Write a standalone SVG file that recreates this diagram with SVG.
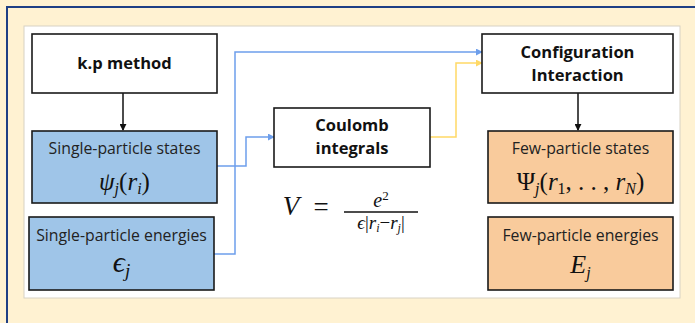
<svg xmlns="http://www.w3.org/2000/svg" width="695" height="323" viewBox="0 0 695 323">
<style>
.box{stroke:#1a1a1a;stroke-width:1.6}
.w{fill:#fff}.b{fill:#9fc5e8}.o{fill:#f9cb9c}
.t{font-family:"Open Sans","Liberation Sans",sans-serif;font-size:15.8px;fill:#222;text-anchor:middle}
.h{font-family:"Open Sans","Liberation Sans",sans-serif;font-size:16.5px;font-weight:bold;fill:#111;text-anchor:middle}
.m{font-family:"Liberation Serif","DejaVu Serif",serif;font-style:italic;fill:#111;text-anchor:middle}
.u{font-style:normal}
.c{fill:none;stroke-width:1.5}
</style>
<defs>
<marker id="ak" viewBox="0 0 8 8" refX="7" refY="4" markerWidth="7" markerHeight="7" markerUnits="userSpaceOnUse" orient="auto"><path d="M0,0L8,4L0,8z" fill="#111"/></marker>
<marker id="ab" viewBox="0 0 8 8" refX="7" refY="4" markerWidth="7" markerHeight="7" markerUnits="userSpaceOnUse" orient="auto"><path d="M0,0L8,4L0,8z" fill="#6d9eeb"/></marker>
<marker id="ay" viewBox="0 0 8 8" refX="7" refY="4" markerWidth="7" markerHeight="7" markerUnits="userSpaceOnUse" orient="auto"><path d="M0,0L8,4L0,8z" fill="#ffd966"/></marker>
</defs>
<rect x="0" y="0" width="695" height="323" fill="#fff2d2"/>
<path d="M7,323V7H695" fill="none" stroke="#1f3f85" stroke-width="2"/>
<rect x="24" y="26" width="656" height="272" fill="#fff" stroke="#d8d2c4" stroke-width="1"/>
<g id="connectors">
<path class="c" d="M123,93V130" stroke="#111" marker-end="url(#ak)"/>
<path class="c" d="M578,93V130" stroke="#111" marker-end="url(#ak)"/>
<path class="c" d="M217,166H246V137H274" stroke="#6d9eeb" marker-end="url(#ab)"/>
<path class="c" d="M214,254H235V52H482" stroke="#6d9eeb" marker-end="url(#ab)"/>
<path class="c" d="M430,137H456V63H482" stroke="#ffd966" marker-end="url(#ay)"/>
</g>
<g id="kp"><rect class="box w" x="32" y="34" width="185" height="59"/><text class="h" x="124.5" y="69">k.p method</text></g>
<g id="sps"><rect class="box b" x="32" y="131" width="185" height="72"/><text class="t" x="124.5" y="154">Single-particle states</text>
<text class="m" x="124.5" y="190" font-size="25">ψ<tspan font-size="16" dy="4">j</tspan><tspan class="u" dy="-4">(</tspan>r<tspan font-size="16" dy="4">i</tspan><tspan class="u" dy="-4">)</tspan></text></g>
<g id="spe"><rect class="box b" x="29" y="217" width="185" height="73"/><text class="t" x="121.5" y="241">Single-particle energies</text>
<text class="m" x="121.5" y="272" font-size="30">ϵ<tspan font-size="19" dy="5">j</tspan></text></g>
<g id="coulomb"><rect class="box w" x="274" y="108" width="156" height="59"/><text class="h" x="352" y="131">Coulomb</text><text class="h" x="352" y="154">integrals</text></g>
<g id="ci"><rect class="box w" x="482" y="34" width="191" height="59"/><text class="h" x="577.5" y="58">Configuration</text><text class="h" x="577.5" y="81">Interaction</text></g>
<g id="fps"><rect class="box o" x="488" y="131" width="185" height="72"/><text class="t" x="580.5" y="154">Few-particle states</text>
<text class="m" x="580.5" y="190" font-size="25"><tspan class="u">Ψ</tspan><tspan font-size="16" dy="4">j</tspan><tspan class="u" dy="-4">(</tspan>r<tspan class="u" font-size="16" dy="4">1</tspan><tspan class="u" dy="-4">, . . , </tspan>r<tspan font-size="16" dy="4">N</tspan><tspan class="u" dy="-4">)</tspan></text></g>
<g id="fpe"><rect class="box o" x="488" y="217" width="185" height="73"/><text class="t" x="580.5" y="241">Few-particle energies</text>
<text class="m" x="580.5" y="273" font-size="26">E<tspan font-size="16" dy="5">j</tspan></text></g>
<g id="formula">
<text class="m" x="291" y="215" font-size="27">V</text>
<text class="m u" x="321" y="216" font-size="27">=</text>
<line x1="344" y1="212" x2="418" y2="212" stroke="#111" stroke-width="1.3"/>
<text class="m" x="381" y="207" font-size="20">e<tspan class="u" font-size="13" dy="-7">2</tspan></text>
<text class="m" x="381" y="229" font-size="19">ϵ<tspan class="u">|</tspan>r<tspan font-size="12" dy="3">i</tspan><tspan class="u" dy="-3">−</tspan>r<tspan font-size="12" dy="3">j</tspan><tspan class="u" dy="-3">|</tspan></text>
</g>
</svg>
